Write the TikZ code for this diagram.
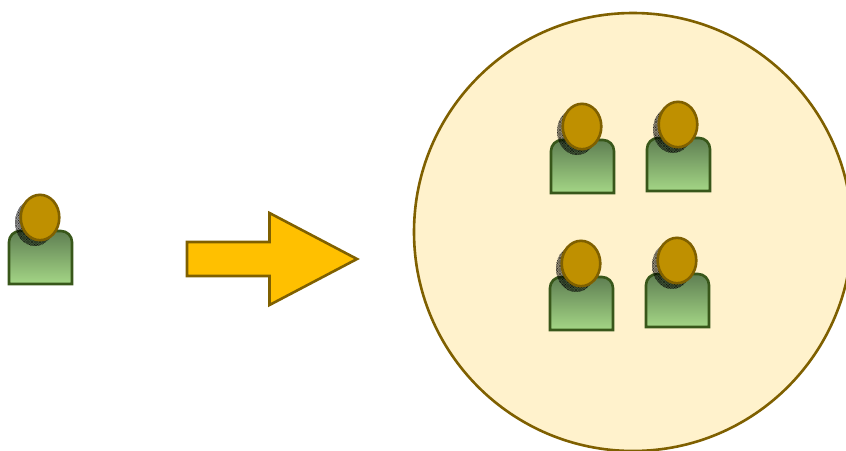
\documentclass[tikz,border=0pt]{standalone}
\usetikzlibrary{patterns}
\definecolor{goldline}{HTML}{7F6000}
\definecolor{creamfill}{HTML}{FFF2CC}
\definecolor{arrowfill}{HTML}{FFC000}
\definecolor{headfill}{HTML}{BF9000}
\definecolor{bodyline}{HTML}{38571A}
\definecolor{bodytop}{HTML}{5F7F52}
\definecolor{bodybottom}{HTML}{A4D686}
\pgfdeclarepatternformonly{finemesh}{\pgfqpoint{-0.2pt}{-0.2pt}}{\pgfqpoint{1.8pt}{1.8pt}}{\pgfqpoint{1.6pt}{1.6pt}}{
  \pgfsetlinewidth{0.2pt}
  \pgfpathmoveto{\pgfqpoint{0pt}{0pt}}\pgfpathlineto{\pgfqpoint{1.6pt}{1.6pt}}
  \pgfpathmoveto{\pgfqpoint{0pt}{1.6pt}}\pgfpathlineto{\pgfqpoint{1.6pt}{0pt}}
  \pgfusepath{stroke}
}
\tikzset{
  outline/.style={line width=2.6pt,line join=miter},
  crowd/.style={outline,draw=goldline,fill=creamfill},
  bigarrow/.style={outline,draw=goldline,fill=arrowfill},
  torso/.style={outline,draw=bodyline,top color=bodytop,bottom color=bodybottom},
  headshape/.style={outline,draw=goldline,fill=headfill},
  headshadow/.style={pattern=finemesh,pattern color=black},
  pics/person/.style={code={
    \draw[torso] (0,53) -- (0,11) arc[start angle=180,end angle=270,radius=11] -- (52,0) arc[start angle=270,end angle=360,radius=11] -- (63,53) -- cycle;
    \path[headshadow] (26,-8.5) ellipse[x radius=20,y radius=23.5];
    \draw[headshape] (31,-13.5) ellipse[x radius=19.3,y radius=22.7];
  }}
}
\begin{document}
\begin{tikzpicture}[x=1pt,y=-1pt]
\useasboundingbox (0,0) rectangle (846,450);
\clip (0,0) rectangle (846,450);
\draw[crowd] (633,232) circle[radius=219];
\draw[bigarrow] (187,242) -- (269.5,242) -- (269.5,213) -- (357,259) -- (269.5,305) -- (269.5,276) -- (187,276) -- cycle;
\pic at (9,231) {person};
\pic at (551,140) {person};
\pic at (647,138) {person};
\pic at (550,277) {person};
\pic at (646,274) {person};
\end{tikzpicture}
\end{document}
